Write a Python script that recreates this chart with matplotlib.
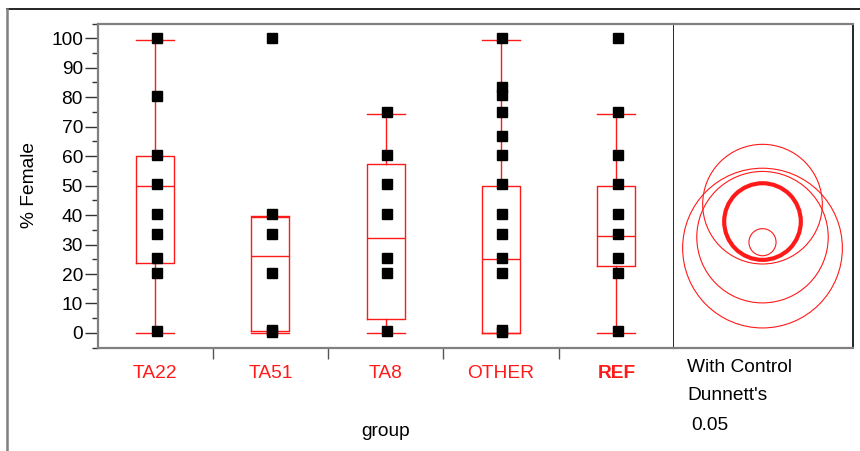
import matplotlib
matplotlib.use("Agg")
import matplotlib.pyplot as plt
from matplotlib.patches import Circle
from matplotlib.lines import Line2D
from matplotlib.ticker import MultipleLocator, FixedLocator

plt.rcParams['font.family'] = ['Liberation Sans', 'DejaVu Sans']

# ---------------- data ----------------
groups = ['TA22', 'TA51', 'TA8', 'OTHER', 'REF']

pts_TA22 = [100, 80.4, 60.4, 50.6, 40.3, 33.6, 25.6, 20.2, 0.5]
pts_TA51 = [100, 40.3, 33.6, 20.2, 1.1, 0.3]
pts_TA8 = [75.1, 60.4, 50.6, 40.3, 25.6, 20.2, 0.6]
pts_OTHER = [100.2, 83.6, 80.8, 75.1, 66.9, 60.4, 50.7, 40.3, 33.6, 25.6, 20.2, 1.1, 0.2]
pts_REF = [100.2, 75.1, 60.4, 50.7, 40.3, 33.6, 25.6, 20.2, 0.6]
points = [pts_TA22, pts_TA51, pts_TA8, pts_OTHER, pts_REF]

box_q1 = [23.9, 0.5, 4.9, 0.0, 22.6]
box_med = [50.0, 26.2, 32.2, 25.1, 33.0]
box_q3 = [59.9, 39.5, 57.3, 50.0, 50.0]
whis_lo = [0.0, 0.0, 0.0, 0.0, 0.0]
whis_hi = [99.4, 39.6, 74.4, 99.4, 74.4]

circle_mean = [43.7, 28.8, 32.5, 30.8, 37.8]
circle_radius = [20.3, 27.1, 22.3, 4.6, 13.0]
control_group = 'REF'

y_major = [0, 10, 20, 30, 40, 50, 60, 70, 80, 90, 100]
ylim = (-5, 105)

# ---------------- figure ----------------
W, H = 860, 451
fig = plt.figure(figsize=(W / 100, H / 100), dpi=100)

def fx(px):
    return px / W

def fy(py):
    return 1 - py / H

FS = 13.8
L, R, T, B = 97.5, 674.0, 23.5, 347.7
RP = 853.0
ax = fig.add_axes([fx(L), fy(B), fx(R) - fx(L), fy(T) - fy(B)])
axr = fig.add_axes([fx(R), fy(B), fx(RP) - fx(R), fy(T) - fy(B)])

red = '#ff1a1a'
gray = '#808080'

# box plots
stats = []
for i, g in enumerate(groups):
    stats.append(dict(label=g, q1=box_q1[i], med=box_med[i], q3=box_q3[i],
                      whislo=whis_lo[i], whishi=whis_hi[i], fliers=[]))
ax.bxp(stats, positions=list(range(len(groups))), widths=0.33, showfliers=False,
       boxprops=dict(color=red, lw=1.0),
       medianprops=dict(color=red, lw=1.0),
       whiskerprops=dict(color=red, lw=1.0),
       capprops=dict(color=red, lw=1.0),
       capwidths=0.33)

for i, p in enumerate(points):
    ax.plot([i + 0.012] * len(p), p, ls='none', marker='s', ms=6.6,
            mfc='black', mec='black', zorder=5)

ax.set_xlim(-0.5, len(groups) - 0.5)
ax.set_ylim(*ylim)
ax.yaxis.set_major_locator(FixedLocator(y_major))
ax.yaxis.set_minor_locator(MultipleLocator(5))
ax.tick_params(axis='y', which='major', length=9.5, width=1.0, color='#333333',
               pad=1, labelsize=FS)
ax.tick_params(axis='y', which='minor', length=4.5, width=1.0, color='#333333')

ax.xaxis.set_major_locator(FixedLocator(list(range(len(groups)))))
ax.set_xticklabels(groups)
ax.xaxis.set_minor_locator(FixedLocator([i + 0.5 for i in range(len(groups) - 1)]))
ax.tick_params(axis='x', which='major', length=0, pad=12.5, labelsize=FS,
               labelcolor=red)
ax.tick_params(axis='x', which='minor', length=7.6, width=1.0, color='#555555')
for lab in ax.get_xticklabels():
    if lab.get_text() == control_group:
        lab.set_fontweight('bold')

for s in ['left', 'top', 'bottom']:
    ax.spines[s].set_color(gray)
    ax.spines[s].set_linewidth(1.6)
ax.spines['right'].set_color('black')
ax.spines['right'].set_linewidth(1.2)

# comparison circles panel
axr.set_ylim(*ylim)
hpx = B - T
wpx = RP - R
xr = (ylim[1] - ylim[0]) * wpx / hpx
axr.set_xlim(0, xr)
cx = (762.5 - R) / hpx * (ylim[1] - ylim[0])
for g, m, r in zip(groups, circle_mean, circle_radius):
    lw = 3.0 if g == control_group else 0.8
    axr.add_patch(Circle((cx, m), r, fill=False, ec=red, lw=lw))
axr.set_xticks([])
axr.set_yticks([])
axr.spines['left'].set_visible(False)
axr.spines['top'].set_color(gray)
axr.spines['top'].set_linewidth(1.6)
axr.spines['bottom'].set_color(gray)
axr.spines['bottom'].set_linewidth(1.6)
axr.spines['right'].set_color('black')
axr.spines['right'].set_linewidth(1.2)

# outer frame lines
fig.add_artist(Line2D([fx(7), 1.0], [fy(9.3), fy(9.3)], color='black', lw=1.2))
fig.add_artist(Line2D([fx(7), fx(7)], [fy(9.3), 0.0], color=gray, lw=1.8))

# texts
fig.text(fx(30), fy(185), '% Female', rotation=90, ha='center', va='center',
         fontsize=FS)
fig.text(fx(386), fy(431), 'group', ha='center', va='center', fontsize=FS)
fig.text(fx(687), fy(367), 'With Control', ha='left', va='center', fontsize=FS)
fig.text(fx(687), fy(396), "Dunnett's", ha='left', va='center', fontsize=FS)
fig.text(fx(691), fy(425), '0.05', ha='left', va='center', fontsize=FS)

fig.savefig('out.png', dpi=100)
